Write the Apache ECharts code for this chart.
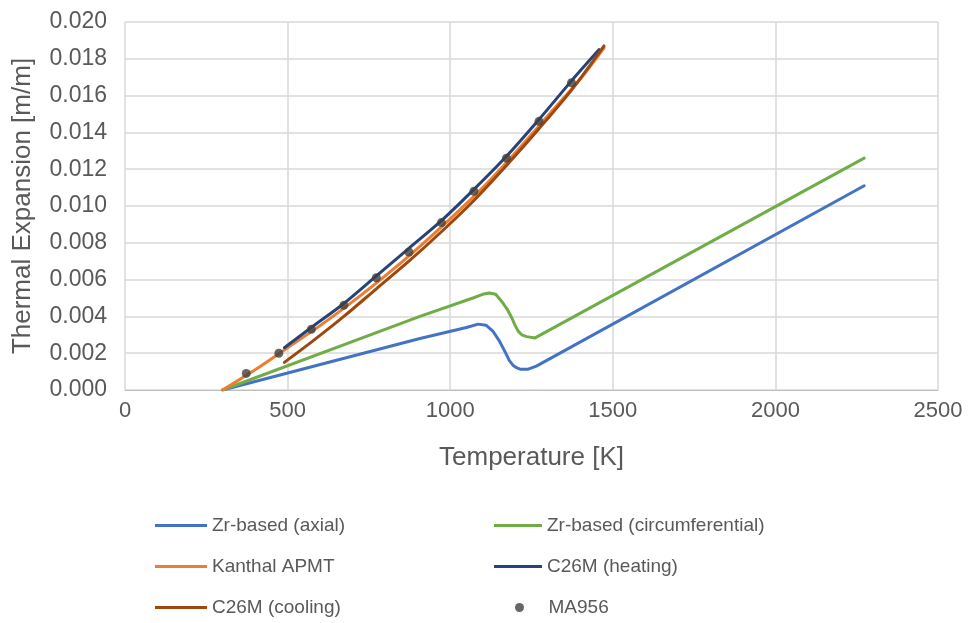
<!DOCTYPE html>
<html>
<head>
<meta charset="utf-8">
<script src="https://cdn.jsdelivr.net/npm/echarts@6/dist/echarts.min.js"></script>
<style>
  html, body { margin: 0; padding: 0; background: #fff; }
  #chart { width: 971px; height: 623px; }
</style>
</head>
<body>
<div id="chart"></div>
<script>
// temperatures [K] and thermal expansion [m/m]
var zrAxialT = [300, 907, 1050, 1086, 1110, 1132, 1150, 1168, 1182, 1193, 1205, 1215, 1240, 1265, 2273]
var zrAxialV = [0, 0.0028, 0.0034, 0.00358, 0.00352, 0.00318, 0.0027, 0.0021, 0.0016, 0.00135, 0.0012, 0.00113, 0.00113, 0.0013, 0.0111]
var zrCircT = [300, 907, 1070, 1100, 1120, 1140, 1159, 1175, 1190, 1200, 1209, 1220, 1235, 1261, 2273]
var zrCircV = [0, 0.0040, 0.0050, 0.0052, 0.00527, 0.0052, 0.0048, 0.0044, 0.0039, 0.0035, 0.0032, 0.0030, 0.0029, 0.00283, 0.0126]
var kanthalT = [300, 400, 500, 600, 700, 800, 900, 1000, 1100, 1200, 1300, 1400, 1473]
var kanthalV = [0, 0.0011, 0.0023, 0.0035, 0.0048, 0.0062, 0.0077, 0.0093, 0.0110, 0.0129, 0.0149, 0.0169, 0.0186]
var heatT = [490, 573, 673, 773, 873, 973, 1073, 1173, 1273, 1373, 1458]
var heatV = [0.0023, 0.0034, 0.0047, 0.0062, 0.0077, 0.0092, 0.0109, 0.0127, 0.0147, 0.0168, 0.0185]
var coolT = [490, 573, 673, 773, 873, 973, 1073, 1173, 1273, 1373, 1473]
var coolV = [0.0015, 0.0026, 0.0040, 0.0055, 0.0070, 0.0086, 0.0103, 0.0122, 0.0142, 0.0163, 0.0187]
var ma956T = [373, 473, 573, 673, 773, 873, 973, 1073, 1173, 1273, 1373]
var ma956V = [0.0009, 0.0020, 0.0033, 0.0046, 0.0061, 0.0075, 0.0091, 0.0108, 0.0126, 0.0146, 0.0167]

function pairs(xs, ys) {
  return xs.map(function (x, i) { return [x, ys[i]] })
}

var font = 'Liberation Sans, Arial, sans-serif'
var grey = '#595959'

function lineSeries(name, xs, ys, color, smooth) {
  return {
    name: name,
    type: 'line',
    data: pairs(xs, ys),
    symbol: 'none',
    smooth: smooth,
    lineStyle: { color: color, width: 3, cap: 'round', join: 'round' },
    itemStyle: { color: color }
  }
}

var legendText = { fontFamily: font, fontSize: 19, color: grey }

var chart = echarts.init(document.getElementById('chart'))
chart.setOption({
  animation: false,
  grid: { left: 125, right: 33, top: 22, bottom: 233 },
  legend: [{
    orient: 'vertical', left: 155, top: 516, itemGap: 22, padding: 0,
    itemWidth: 52, itemHeight: 3, icon: 'rect',
    textStyle: legendText,
    data: ['Zr-based (axial)', 'Kanthal APMT', 'C26M (cooling)']
  }, {
    orient: 'vertical', left: 494, top: 516, itemGap: 22, padding: 0,
    itemWidth: 48, itemHeight: 3, icon: 'rect',
    textStyle: legendText,
    data: ['Zr-based (circumferential)', 'C26M (heating)']
  }, {
    left: 510, top: 593,
    itemWidth: 48, itemHeight: 9, icon: 'circle',
    textStyle: legendText,
    data: ['MA956']
  }],
  xAxis: {
    type: 'value', min: 0, max: 2500, interval: 500,
    name: 'Temperature [K]', nameLocation: 'middle', nameGap: 55,
    nameTextStyle: { fontFamily: font, fontSize: 26, color: grey },
    axisLine: { show: true, lineStyle: { color: '#bfbfbf', width: 1 } },
    axisTick: { show: false },
    axisLabel: {
      fontFamily: font, fontSize: 22, color: grey, margin: 10,
      formatter: function (v) { return String(v) }
    },
    splitLine: { show: true, lineStyle: { color: '#d9d9d9', width: 1.5 } }
  },
  yAxis: {
    type: 'value', min: 0, max: 0.02, interval: 0.002,
    name: 'Thermal Expansion [m/m]', nameLocation: 'middle', nameGap: 89,
    nameTextStyle: { fontFamily: font, fontSize: 26, color: grey },
    axisLine: { show: false },
    axisTick: { show: false },
    axisLabel: {
      fontFamily: font, fontSize: 23, color: grey, margin: 18,
      formatter: function (v) { return v.toFixed(3) }
    },
    splitLine: { show: true, lineStyle: { color: '#d9d9d9', width: 1.5 } }
  },
  series: [
    lineSeries('Zr-based (axial)', zrAxialT, zrAxialV, '#4472c4', false),
    lineSeries('Zr-based (circumferential)', zrCircT, zrCircV, '#70ad47', false),
    lineSeries('Kanthal APMT', kanthalT, kanthalV, '#ed7d31', 0.3),
    lineSeries('C26M (heating)', heatT, heatV, '#264478', 0.3),
    lineSeries('C26M (cooling)', coolT, coolV, '#9e480e', 0.3),
    {
      name: 'MA956',
      type: 'scatter',
      data: pairs(ma956T, ma956V),
      symbol: 'circle',
      symbolSize: 9,
      itemStyle: { color: '#404040' },
      z: 5
    }
  ]
})
</script>
</body>
</html>
